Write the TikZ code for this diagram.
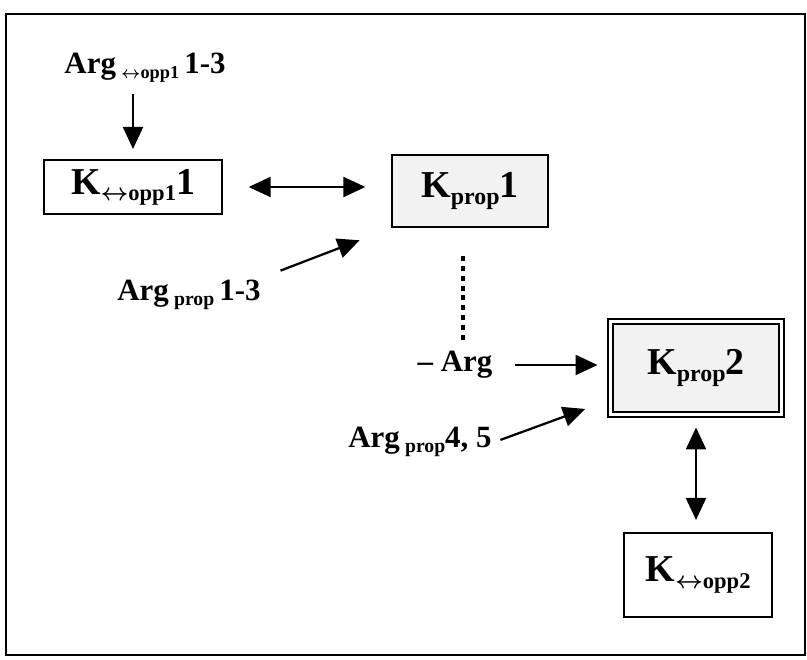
\documentclass[tikz,border=0pt]{standalone}
\usepackage{fontspec}
\setmainfont{Liberation Serif}
\usetikzlibrary{arrows.meta}

% lowered index text
\newcommand{\lowidx}[2]{\raisebox{-0.35ex}{\fontsize{#1}{#1}\selectfont #2}}
\newcommand{\lrarr}{\boldmath$\leftrightarrow$\unboldmath}

\tikzset{
  kbox/.style={draw, line width=1.5pt, inner sep=0pt, font={\bfseries\fontsize{27}{30}\selectfont}},
  greybox/.style={kbox, fill=gray!10},
  argtext/.style={inner sep=2pt, font={\bfseries\fontsize{22}{24}\selectfont}},
  arr/.style={line width=1.6pt, -{Triangle[length=0.55cm,width=0.5cm]}},
  dblarr/.style={line width=1.6pt, {Triangle[length=0.55cm,width=0.5cm]}-{Triangle[length=0.55cm,width=0.5cm]}},
  dotline/.style={line width=3pt, dash pattern=on 3.5pt off 3.5pt},
}

\begin{document}
\begin{tikzpicture}[x=0.025cm,y=-0.025cm]
\useasboundingbox (0,0) rectangle (807,659);
\draw[line width=1.8pt] (6,14) rectangle (805,655);

% first level
\node[argtext] (argopp1) at (145,68) {Arg\,\lowidx{13}{\lrarr opp1}\,1-3};
\node[kbox, minimum width=4.43cm, minimum height=1.35cm] (kopp1) at (133,187) {K\lowidx{16}{\lrarr opp1}1};
\node[greybox, minimum width=3.88cm, minimum height=1.8cm] (kprop1) at (470,191) {K\lowidx{17}{prop}1};
\node[argtext] (argprop1) at (189,295) {Arg\,\lowidx{14}{prop}\,1-3};

% second level
\node[argtext] (eqarg) at (455,365) {– Arg};
\node[greybox, draw, line width=1.2pt, double, double distance=2.5pt,
      minimum width=4.28cm, minimum height=2.33cm] (kprop2) at (696,368) {K\lowidx{17}{prop}2};
\node[argtext] (argprop45) at (420,442) {Arg\,\lowidx{14}{prop}4, 5};
\node[kbox, minimum width=3.68cm, minimum height=2.1cm] (kopp2) at (698,575) {K\lowidx{16}{\lrarr opp2}};

% connectors
\draw[arr, shorten <=0.2cm, shorten >=0.25cm] (argopp1.south -| kopp1.north) -- (kopp1.north);
\draw[dblarr, shorten <=0.65cm, shorten >=0.65cm] (kopp1.east) -- (kopp1.east -| kprop1.west);
\draw[arr, shorten <=0.45cm, shorten >=0.85cm] (argprop1.north east) -- (kprop1.south west);
\draw[dotline, shorten <=0.7cm, shorten >=0.15cm] ([xshift=-0.18cm]kprop1.south) -- ([xshift=-0.18cm]kprop1.south |- eqarg.north);
\draw[arr, shorten <=0.5cm, shorten >=0.3cm] (eqarg.east) -- (eqarg.east -| kprop2.west);
\draw[arr, shorten <=0.15cm, shorten >=0.65cm] (argprop45.east) -- ([yshift=-0.8cm]kprop2.west);
\draw[dblarr, shorten <=0.3cm, shorten >=0.3cm] (kprop2.south) -- (kprop2.south |- kopp2.north);
\end{tikzpicture}
\end{document}
